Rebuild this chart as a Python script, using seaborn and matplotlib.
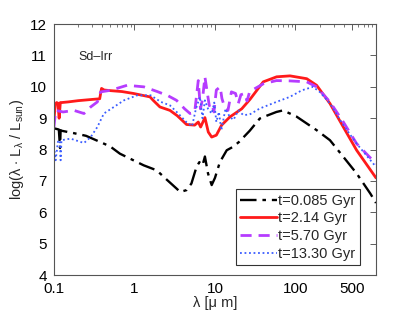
import seaborn as sns
import matplotlib
matplotlib.use("Agg")
import matplotlib.pyplot as plt
import matplotlib.ticker as mticker
import pandas as pd

# t = 0.085 Gyr (black, dash-dot)
wl_a = [0.1, 0.115, 0.119, 0.121, 0.125, 0.18, 0.25, 0.37, 0.5, 0.66, 0.97, 1.3, 1.89, 2.5, 3.33, 3.7, 4.44,
        5.1, 5.9, 6.4, 7.0, 7.5, 8.2, 9.1, 10.0, 11.5, 14.0, 16.8, 20.0, 27.0, 36.0, 40.0, 58.0, 70.0,
        102.0, 183.0, 268.0, 393.0, 575.0, 850.0, 1000.0]
lg_a = [8.68, 8.64, 8.05, 8.62, 8.6, 8.52, 8.44, 8.25, 8.1, 7.87, 7.66, 7.5, 7.34, 7.05, 6.76, 6.65, 6.71,
        6.92, 7.45, 7.6, 7.5, 7.78, 7.24, 6.87, 7.1, 7.6, 7.98, 8.09, 8.25, 8.6, 8.99, 9.04, 9.2, 9.25,
        9.06, 8.62, 8.3, 7.77, 7.24, 6.6, 6.3]

# t = 2.14 Gyr (red, solid)
wl_b = [0.1, 0.104, 0.108, 0.112, 0.116, 0.12, 0.125, 0.15, 0.2, 0.3, 0.37, 0.39, 0.42, 0.5, 0.7, 0.97,
        1.56, 1.71, 2.07, 2.76, 3.4, 4.44, 5.6, 6.2, 6.64, 7.5, 8.26, 9.1, 10.4, 12.1, 15.3, 21.5, 27.2,
        39.8, 58.3, 85.5, 138.0, 183.0, 268.0, 393.0, 575.0, 1000.0]
lg_b = [8.95, 9.45, 9.5, 9.48, 9.0, 9.5, 9.5, 9.52, 9.56, 9.6, 9.62, 9.95, 9.9, 9.88, 9.85, 9.79,
        9.68, 9.57, 9.36, 9.25, 9.08, 8.8, 8.78, 8.88, 8.72, 9.02, 8.56, 8.4, 8.46, 8.78, 9.04, 9.3, 9.6,
        10.16, 10.32, 10.35, 10.26, 10.05, 9.47, 8.72, 7.98, 7.1]

# t = 5.70 Gyr (purple, dashed)
wl_c = [0.1, 0.105, 0.13, 0.177, 0.236, 0.286, 0.346, 0.38, 0.506, 0.81, 1.31, 1.92, 2.6, 3.33, 4.2, 4.9,
        5.6, 6.2, 6.6, 7.0, 7.5, 8.0, 8.5, 9.1, 9.7, 10.4, 11.6, 12.2, 13.0, 14.5, 16.0, 18.0, 19.5, 21.0,
        23.5, 25.0, 27.0, 40.0, 58.0, 85.0, 138.0, 183.0, 268.0, 393.0, 575.0, 1000.0]
lg_c = [8.72, 9.25, 9.2, 9.25, 9.15, 9.36, 9.52, 9.84, 9.89, 10.05, 10.0, 9.85, 9.72, 9.57, 9.3, 9.15,
        9.2, 10.2, 9.3, 9.6, 10.32, 9.84, 9.4, 9.47, 9.2, 9.9, 10.0, 9.63, 9.4, 9.25, 9.84, 9.79, 9.47,
        9.75, 9.79, 9.55, 9.85, 10.1, 10.2, 10.19, 10.16, 10.0, 9.52, 8.88, 8.19, 7.55]

# t = 13.30 Gyr (blue, dotted)
wl_d = [0.1, 0.105, 0.112, 0.118, 0.121, 0.124, 0.161, 0.236, 0.286, 0.346, 0.417, 0.556, 0.74, 1.08,
        1.59, 2.13, 2.76, 3.5, 4.4, 5.2, 5.8, 6.5, 7.0, 7.5, 8.2, 9.1, 9.8, 10.4, 11.2, 12.0, 13.5, 15.3,
        17.0, 19.5, 22.5, 27.0, 36.0, 58.0, 85.0, 120.0, 165.0, 200.0, 268.0, 393.0, 575.0, 1000.0]
lg_d = [8.1, 7.66, 8.25, 8.3, 7.66, 8.3, 8.35, 8.21, 8.4, 8.72, 9.15, 9.36, 9.57, 9.73, 9.73, 9.52, 9.41,
        9.15, 8.88, 8.75, 9.3, 9.68, 9.0, 9.57, 9.3, 9.15, 9.5, 8.88, 9.2, 8.62, 9.3, 9.04, 8.95, 9.25,
        9.1, 9.12, 9.31, 9.52, 9.68, 9.89, 10.0, 9.84, 9.47, 8.78, 8.19, 7.45]

labels = ["t=0.085 Gyr", "t=2.14 Gyr", "t=5.70 Gyr", "t=13.30 Gyr"]
x_ticks = [0.1, 1, 10, 100, 500]
x_tick_labels = ["0.1", "1", "10", "100", "500"]

sns.set_style("white")
plt.rcParams['font.family'] = ['Liberation Sans', 'DejaVu Sans']
plt.rcParams['mathtext.fontset'] = 'custom'
plt.rcParams['mathtext.rm'] = 'Liberation Sans'
plt.rcParams['mathtext.it'] = 'Liberation Sans'

fig, ax = plt.subplots(figsize=(4.15, 3.13), dpi=100)
fig.subplots_adjust(left=0.13, right=0.906, top=0.923, bottom=0.121)

styles = [
    (wl_a, lg_a, "black", (0, (7, 2.5, 1.5, 2.5)), 1.7),
    (wl_b, lg_b, "#ff1a1a", "-", 2.0),
    (wl_c, lg_c, "#b63cff", (0, (4, 2.5)), 2.0),
    (wl_d, lg_d, "#3a5cff", (0, (1, 1.5)), 1.3),
]
for (wl, lg, col, ls, lw), lab in zip(styles, labels):
    df = pd.DataFrame({"wl": wl, "lg": lg})
    sns.lineplot(data=df, x="wl", y="lg", ax=ax, color=col, linestyle=ls, linewidth=lw,
                 label=lab, sort=False, estimator=None)

ax.set_xscale("log")
ax.set_xlim(0.1, 1000)
ax.set_ylim(4, 12)
ax.set_xticks(x_ticks)
ax.set_xticklabels(x_tick_labels)
ax.xaxis.set_minor_locator(mticker.LogLocator(base=10, subs=range(2, 10), numticks=20))
ax.xaxis.set_minor_formatter(mticker.NullFormatter())
ax.set_yticks(range(4, 13))
ax.tick_params(which="both", direction="in", top=True, right=True, labelsize=11, colors="#444444",
               labelcolor="black")
ax.tick_params(which="major", length=4, width=0.6)
ax.tick_params(which="minor", length=2, width=0.5)
ax.tick_params(axis="x", pad=5)
ax.tick_params(axis="y", pad=5)
for s in ax.spines.values():
    s.set_color("#555555")
    s.set_linewidth(0.8)

ax.set_xlabel(r"λ [μ m]", fontsize=10.5, labelpad=0)
ax.set_ylabel(r"log(λ $\cdot$ L$_\lambda$ / L$_{\rm sun}$)", fontsize=10.5, labelpad=3)
ax.text(0.075, 0.855, "Sd\u2013Irr", transform=ax.transAxes, fontsize=9)

leg = ax.legend(loc="lower right", bbox_to_anchor=(0.95, 0.04), fontsize=10.5, frameon=True,
                fancybox=False, handlelength=2.5, handletextpad=0.1, borderpad=0.3, labelspacing=0.25,
                borderaxespad=0)
leg.get_frame().set_edgecolor("black")
leg.get_frame().set_linewidth(0.8)

fig.savefig("out.png", dpi=100)
